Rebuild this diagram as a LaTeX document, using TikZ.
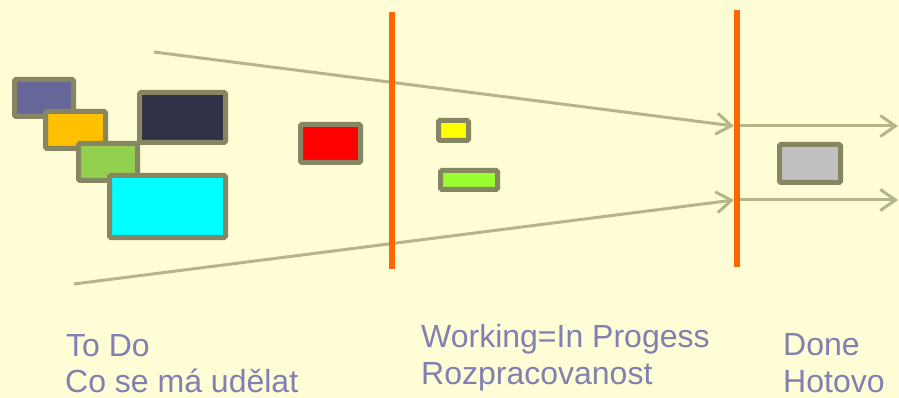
\documentclass[tikz,border=0pt]{standalone}
\usepackage{fontspec}
\setmainfont{Liberation Sans}
\usetikzlibrary{arrows.meta}
\definecolor{bg}{HTML}{FEFDD6}
\definecolor{frame}{HTML}{868662}
\definecolor{flow}{HTML}{B5B58A}
\definecolor{wall}{HTML}{FF6600}
\definecolor{label}{HTML}{8080B2}
\tikzset{
  card/.style={draw=frame, line width=5pt, rounded corners=1.5pt, inner sep=0pt, anchor=center},
  flowline/.style={draw=flow, line width=3pt, -{Straight Barb[length=15pt,width=21pt,line width=3pt]}},
  wallline/.style={draw=wall, line width=6pt},
  caption/.style={text=label, anchor=base west, inner sep=0pt, font=\fontsize{32}{36}\selectfont}
}
\begin{document}
\begin{tikzpicture}[x=1pt,y=-1pt]
\fill[bg] (0,0) rectangle (899,398);
\useasboundingbox (0,0) rectangle (899,398);

% cards in To Do
\node[card, fill={rgb,255:red,102;green,102;blue,153}, minimum width=59pt, minimum height=37pt] (c1) at (44,98) {};
\node[card, fill={rgb,255:red,255;green,192;blue,0}, minimum width=60pt, minimum height=37pt] (c2) at (75.5,130) {};
\node[card, fill={rgb,255:red,146;green,208;blue,80}, minimum width=59pt, minimum height=37pt] (c3) at (108,162) {};
\node[card, fill={rgb,255:red,48;green,48;blue,70}, minimum width=86pt, minimum height=50pt] (c4) at (182.5,117.5) {};
\node[card, fill={rgb,255:red,0;green,255;blue,255}, minimum width=116pt, minimum height=62pt] (c5) at (167.5,206.5) {};
\node[card, fill={rgb,255:red,255;green,0;blue,0}, minimum width=60pt, minimum height=38pt] (c6) at (330.5,143.5) {};

% working cards
\node[card, fill={rgb,255:red,255;green,255;blue,0}, minimum width=30pt, minimum height=20pt] (c7) at (453.5,130.5) {};
\node[card, fill={rgb,255:red,153;green,255;blue,51}, minimum width=57pt, minimum height=19pt] (c8) at (469,180) {};

% done card
\node[card, fill={rgb,255:red,192;green,192;blue,192}, minimum width=61pt, minimum height=38pt] (c9) at (810,163.5) {};

% walls
\coordinate (w1t) at (391.5,12);
\coordinate (w1b) at (391.5,269);
\coordinate (w2t) at (736.5,10);
\coordinate (w2b) at (736.5,267);

% flow lines
\coordinate (s1) at (154,52);
\coordinate (s2) at (74,284);
\coordinate (d1) at (734,126);
\coordinate (d2) at (734,200);
\coordinate (o1) at (738,126);
\coordinate (o2) at (738,200);
\coordinate (e1) at (898,126);
\coordinate (e2) at (898,200);
\draw[flowline] (s1) -- (d1);
\draw[flowline] (s2) -- (d2);
\draw[flowline] (o1) -- (e1);
\draw[flowline] (o2) -- (e2);

\draw[wallline] (w1t) -- (w1b);
\draw[wallline] (w2t) -- (w2b);

% captions
\node[caption] (t1) at (66,356) {To Do};
\node[caption] (t2) at (65,392) {Co se má udělat};
\node[caption] (t3) at (421,347) {Working=In Progess};
\node[caption] (t4) at (421,384) {Rozpracovanost};
\node[caption] (t5) at (783,355) {Done};
\node[caption] (t6) at (783,392) {Hotovo};
\end{tikzpicture}
\end{document}
